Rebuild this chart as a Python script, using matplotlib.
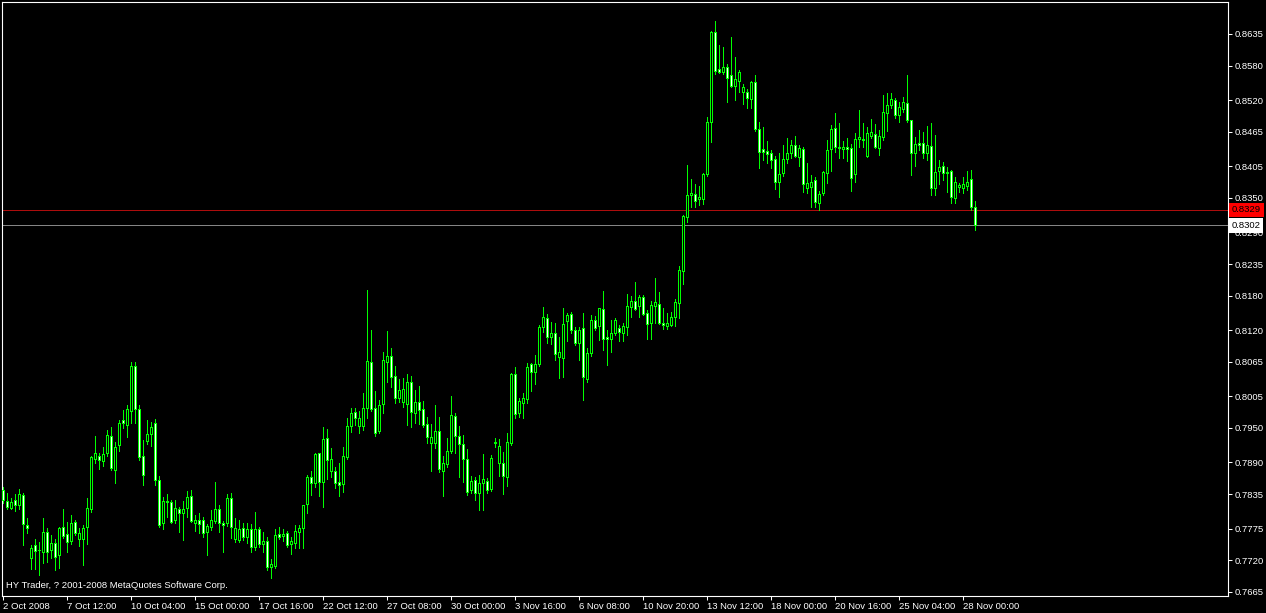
import numpy as np
import matplotlib
matplotlib.use("Agg")
import matplotlib.pyplot as plt
import matplotlib.transforms as mtrans

plt.rcParams['font.family'] = ['Liberation Sans', 'DejaVu Sans']

# 4h candles, 2 Oct 2008 .. 28 Nov 2008
opens = [
    .7842, .7823, .7811, .7825, .7816, .7833, .7781, .7724, .7746, .7738,
    .7735, .7769, .7738, .7750, .7729, .7778, .7766, .7753, .7786, .7757,
    .7757, .7778, .7809, .7896, .7902, .7892, .7906, .7936, .7877, .7921,
    .7964, .7955, .7979, .8058, .7983, .7902, .7927, .7939, .7959, .7859,
    .7785, .7823, .7821, .7790, .7809, .7802, .7811, .7831, .7785, .7790,
    .7790, .7769, .7778, .7788, .7809, .7785, .7785, .7828, .7757, .7755,
    .7776, .7761, .7774, .7743, .7774, .7748, .7753, .7708, .7710, .7766,
    .7762, .7767, .7748, .7750, .7769, .7776, .7818, .7864, .7854, .7906,
    .7856, .7932, .7875, .7875, .7856, .7852, .7899, .7953, .7978, .7953,
    .7953, .7985, .8065, .7985, .7944, .7992, .8065, .8075, .8040, .8002,
    .7995, .7992, .8030, .7976, .7995, .7983, .7957, .7924, .7924, .7944,
    .7875, .7887, .7910, .7971, .7936, .7922, .7896, .7842, .7859, .7837,
    .7854, .7858, .7844, .7925, .7889, .7889, .7864, .7924, .8044, .7976,
    .7993, .8000, .8061, .8047, .8061, .8125, .8141, .8108, .8115, .8073,
    .8071, .8136, .8148, .8121, .8097, .8123, .8035, .8080, .8138, .8127,
    .8157, .8108, .8105, .8115, .8124, .8115, .8125, .8160, .8171, .8162,
    .8178, .8150, .8132, .8162, .8165, .8132, .8127, .8129, .8143, .8167,
    .8223, .8317, .8355, .8357, .8348, .8348, .8391, .8482, .8638, .8574,
    .8569, .8578, .8564, .8544, .8553, .8534, .8534, .8522, .8552, .8470,
    .8435, .8432, .8428, .8418, .8378, .8393, .8418, .8428, .8442, .8421,
    .8435, .8367, .8369, .8381, .8341, .8358, .8393, .8435, .8471, .8438,
    .8435, .8438, .8437, .8391, .8452, .8452, .8423, .8457, .8461, .8437,
    .8456, .8497, .8511, .8520, .8494, .8504, .8515, .8485, .8428, .8445,
    .8445, .8428, .8440, .8367, .8397, .8405, .8395, .8397, .8350, .8369,
    .8367, .8370, .8383, .8334,
]
highs = [
    .7847, .7837, .7828, .7835, .7844, .7837, .7793, .7746, .7757, .7752,
    .7793, .7776, .7764, .7757, .7778, .7809, .7787, .7799, .7790, .7776,
    .7781, .7828, .7902, .7936, .7907, .7917, .7946, .7952, .7926, .7964,
    .7981, .7990, .8065, .8065, .7990, .7929, .7964, .7960, .7966, .7866,
    .7830, .7835, .7825, .7825, .7812, .7823, .7840, .7842, .7799, .7802,
    .7795, .7783, .7807, .7856, .7816, .7788, .7835, .7837, .7793, .7790,
    .7785, .7785, .7783, .7804, .7778, .7769, .7760, .7722, .7774, .7778,
    .7774, .7771, .7760, .7781, .7781, .7816, .7868, .7875, .7906, .7907,
    .7952, .7948, .7915, .7882, .7889, .7917, .7967, .7985, .7985, .7979,
    .8011, .8190, .8120, .8014, .7998, .8082, .8118, .8089, .8058, .8035,
    .8037, .8044, .8040, .8016, .8023, .7997, .7969, .7957, .7990, .7969,
    .7902, .7932, .8005, .7976, .7953, .7938, .7913, .7866, .7865, .7868,
    .7905, .7863, .7903, .7932, .7931, .7908, .7941, .8045, .8056, .8002,
    .8011, .8063, .8063, .8076, .8129, .8160, .8148, .8134, .8132, .8108,
    .8158, .8150, .8152, .8125, .8125, .8150, .8089, .8146, .8145, .8158,
    .8188, .8121, .8138, .8141, .8129, .8132, .8183, .8179, .8204, .8181,
    .8181, .8155, .8171, .8210, .8186, .8158, .8150, .8152, .8174, .8232,
    .8320, .8407, .8383, .8374, .8371, .8393, .8491, .8640, .8657, .8616,
    .8612, .8583, .8630, .8595, .8572, .8548, .8539, .8553, .8564, .8482,
    .8473, .8449, .8433, .8422, .8428, .8442, .8454, .8451, .8458, .8442,
    .8438, .8411, .8390, .8386, .8362, .8397, .8451, .8477, .8497, .8480,
    .8449, .8454, .8444, .8463, .8503, .8480, .8473, .8487, .8478, .8468,
    .8529, .8532, .8532, .8524, .8517, .8525, .8564, .8485, .8456, .8468,
    .8464, .8475, .8480, .8459, .8416, .8412, .8404, .8398, .8386, .8376,
    .8386, .8397, .8398, .8344,
]
lows = [
    .7819, .7809, .7809, .7805, .7809, .7746, .7767, .7705, .7705, .7695,
    .7715, .7717, .7724, .7703, .7707, .7759, .7735, .7748, .7764, .7745,
    .7712, .7748, .7804, .7889, .7878, .7883, .7901, .7877, .7854, .7910,
    .7950, .7934, .7959, .7959, .7894, .7850, .7922, .7918, .7850, .7778,
    .7774, .7795, .7785, .7785, .7769, .7755, .7795, .7786, .7771, .7767,
    .7760, .7729, .7772, .7785, .7769, .7735, .7780, .7759, .7752, .7752,
    .7755, .7749, .7735, .7738, .7743, .7735, .7703, .7689, .7707, .7757,
    .7753, .7743, .7731, .7741, .7741, .7741, .7802, .7833, .7847, .7832,
    .7812, .7861, .7865, .7846, .7832, .7838, .7896, .7943, .7955, .7941,
    .7946, .7967, .7979, .7936, .7941, .7976, .8030, .8021, .7993, .7995,
    .7986, .7955, .7952, .7959, .7957, .7952, .7924, .7875, .7915, .7873,
    .7832, .7882, .7906, .7906, .7865, .7856, .7833, .7837, .7825, .7807,
    .7807, .7837, .7840, .7917, .7866, .7835, .7849, .7920, .7967, .7969,
    .7967, .7993, .8014, .8026, .8058, .8117, .8097, .8096, .8068, .8037,
    .8038, .8101, .8115, .8094, .8068, .7998, .8030, .8075, .8120, .8103,
    .8085, .8059, .8082, .8112, .8101, .8101, .8111, .8143, .8155, .8143,
    .8146, .8105, .8105, .8132, .8131, .8122, .8122, .8127, .8127, .8141,
    .8200, .8308, .8334, .8334, .8338, .8339, .8388, .8447, .8565, .8567,
    .8565, .8517, .8543, .8520, .8534, .8513, .8506, .8506, .8466, .8402,
    .8416, .8411, .8402, .8365, .8351, .8388, .8411, .8419, .8421, .8405,
    .8360, .8358, .8334, .8334, .8329, .8355, .8376, .8397, .8430, .8419,
    .8419, .8414, .8362, .8378, .8438, .8438, .8421, .8454, .8437, .8425,
    .8451, .8466, .8506, .8489, .8482, .8499, .8482, .8390, .8405, .8433,
    .8419, .8416, .8355, .8355, .8374, .8381, .8360, .8341, .8341, .8360,
    .8358, .8364, .8329, .8294,
]
closes = [
    .7825, .7812, .7821, .7816, .7835, .7783, .7776, .7741, .7736, .7737,
    .7769, .7735, .7750, .7726, .7776, .7762, .7752, .7785, .7767, .7767,
    .7776, .7811, .7899, .7906, .7894, .7905, .7938, .7880, .7917, .7959,
    .7959, .7983, .8058, .7983, .7899, .7868, .7939, .7951, .7859, .7781,
    .7823, .7822, .7786, .7811, .7802, .7809, .7830, .7788, .7790, .7783,
    .7767, .7779, .7790, .7809, .7785, .7781, .7828, .7778, .7776, .7774,
    .7761, .7774, .7743, .7774, .7748, .7753, .7708, .7713, .7764, .7761,
    .7766, .7746, .7753, .7771, .7776, .7816, .7864, .7854, .7905, .7856,
    .7931, .7894, .7896, .7854, .7851, .7901, .7953, .7976, .7967, .7967,
    .7985, .8066, .7983, .7941, .7990, .8068, .8075, .8038, .8002, .8016,
    .8018, .8030, .7978, .7995, .7981, .7955, .7934, .7934, .7944, .7878,
    .7889, .7910, .7972, .7936, .7922, .7896, .7839, .7858, .7837, .7854,
    .7861, .7842, .7898, .7924, .7918, .7866, .7926, .8044, .7974, .7997,
    .8002, .8056, .8047, .8061, .8125, .8143, .8108, .8115, .8078, .8082,
    .8131, .8146, .8120, .8097, .8121, .8038, .8080, .8138, .8124, .8158,
    .8105, .8105, .8115, .8138, .8117, .8127, .8162, .8171, .8157, .8178,
    .8148, .8131, .8164, .8169, .8132, .8129, .8132, .8143, .8169, .8225,
    .8318, .8355, .8358, .8345, .8351, .8391, .8482, .8638, .8571, .8569,
    .8578, .8558, .8544, .8557, .8569, .8543, .8524, .8552, .8470, .8430,
    .8430, .8426, .8416, .8378, .8391, .8418, .8428, .8442, .8423, .8437,
    .8374, .8376, .8378, .8343, .8357, .8395, .8433, .8470, .8438, .8437,
    .8438, .8435, .8385, .8452, .8456, .8451, .8463, .8464, .8438, .8457,
    .8499, .8511, .8522, .8494, .8508, .8517, .8485, .8428, .8444, .8442,
    .8428, .8442, .8367, .8395, .8404, .8393, .8394, .8351, .8378, .8372,
    .8374, .8378, .8334, .8302,
]

date_labels = ["2 Oct 2008", "7 Oct 12:00", "10 Oct 04:00", "15 Oct 00:00",
               "17 Oct 16:00", "22 Oct 12:00", "27 Oct 08:00", "30 Oct 00:00",
               "3 Nov 16:00", "6 Nov 08:00", "10 Nov 20:00", "13 Nov 12:00",
               "18 Nov 00:00", "20 Nov 16:00", "25 Nov 04:00", "28 Nov 00:00"]
price_ticks = [0.8635, 0.8580, 0.8520, 0.8465, 0.8405, 0.8350, 0.8290, 0.8235,
               0.8180, 0.8120, 0.8065, 0.8005, 0.7950, 0.7890, 0.7835, 0.7775,
               0.7720, 0.7665]
ask_price = 0.8329
bid_price = 0.8302

o = np.array(opens)
h = np.array(highs)
l = np.array(lows)
c = np.array(closes)
x = np.arange(len(o))

W, H = 1266, 613
fig = plt.figure(figsize=(W / 100, H / 100), dpi=100, facecolor='black')
ax = fig.add_axes([2 / W, 17 / H, 1226 / W, 594 / H], facecolor='black')

lime = '#00ff00'
ax.vlines(x, l, h, color=lime, lw=0.5, antialiased=False, zorder=2)
fills = np.where(c >= o, 'black', 'white')
ax.bar(x, c - o, bottom=o, width=0.5, color=fills, edgecolor=lime,
       linewidth=0.5, antialiased=False, zorder=3)

ax.axhline(ask_price, color='#d01010', lw=0.6, zorder=1)
ax.axhline(bid_price, color='#a0a0a0', lw=0.6, zorder=1)

ax.set_xlim(-0.25, 306.25)
ax.set_ylim(0.76577, 0.86906)

for s in ax.spines.values():
    s.set_color('white')
    s.set_linewidth(0.8)

ax.yaxis.tick_right()
ax.set_yticks(price_ticks)
ax.set_yticklabels(["%.4f" % p for p in price_ticks])
ax.set_xticks(np.arange(len(date_labels)) * 16)
ax.set_xticklabels(date_labels, ha='left')
ax.tick_params(axis='both', colors='white', labelcolor='white', labelsize=6.8,
               length=3, width=0.75, pad=1.5)

tr = mtrans.blended_transform_factory(ax.transAxes, ax.transData)
ax.text(1.003, ask_price, "%.4f" % ask_price, transform=tr, ha='left', va='center',
        fontsize=6.8, color='black', clip_on=False, zorder=10,
        bbox=dict(facecolor='#ff0000', edgecolor='none', pad=2.0))
ax.text(1.003, bid_price, "%.4f" % bid_price, transform=tr, ha='left', va='center',
        fontsize=6.8, color='black', clip_on=False, zorder=10,
        bbox=dict(facecolor='white', edgecolor='none', pad=2.0))

fig.text(6 / W, 1 - 586 / H, "HY Trader, ? 2001-2008 MetaQuotes Software Corp.",
         color='white', fontsize=6.8, va='center', ha='left')

fig.savefig("out.png", dpi=100, facecolor='black')
